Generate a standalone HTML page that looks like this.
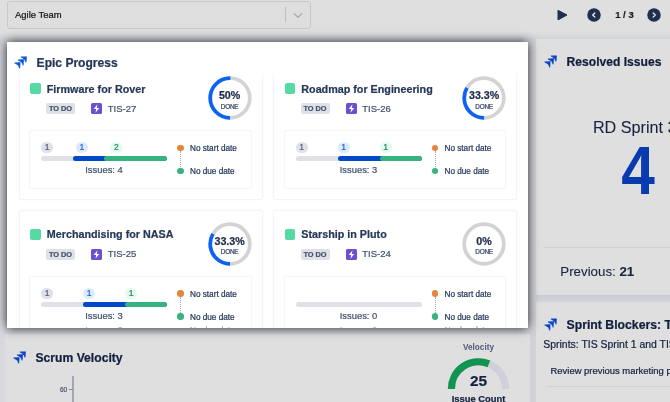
<!DOCTYPE html>
<html lang="en"><head><meta charset="utf-8"><title>Agile Team Dashboard</title>
<style>
html,body{margin:0;padding:0}
body{width:670px;height:402px;overflow:hidden;position:relative;background:#d2d3da;font-family:"Liberation Sans",sans-serif;color:#172b4d}
.abs{position:absolute}
div.abs{white-space:nowrap;line-height:1;-webkit-text-stroke:.22px}
.panel{background:#dfdfdf}
.ptitle{font-weight:bold;color:#111f3e}
#modal{left:6.9px;top:41.6px;width:521.4px;height:286.3px;background:#fff;box-shadow:0 0 10px rgba(0,0,0,.85);overflow:hidden}
#modal .in{position:absolute;left:-6.9px;top:-41.6px;width:670px;height:402px}
.mtitle{font-weight:bold;color:#253858}
.ecard{box-sizing:border-box;border-radius:1.8px;box-shadow:0 0 1.5px .3px rgba(80,100,190,.085)}
.gsq{width:10.8px;height:10.8px;border-radius:2px;background:#57d9a3}
.etitle{font-weight:bold;color:#253858}
.todo{box-sizing:border-box;width:29px;height:10.8px;border-radius:2px;background:#dfe1e6;color:#42526e;font-weight:bold;font-size:7.35px;line-height:11px !important;text-align:center;letter-spacing:0}
.ekey{color:#42526e}
.pct{font-weight:bold;color:#1d2b4a}
.done{color:#344563;letter-spacing:-.25px}
.ibox{box-sizing:border-box;border-radius:1.8px;box-shadow:0 0 1.5px .3px rgba(80,100,190,.07)}
.bar{height:5px;border-radius:2.5px;background:#dfe1e6;overflow:hidden}
.badge{-webkit-text-stroke:0;width:12.4px;height:10.7px;border-radius:5.4px;font-size:8.6px;line-height:11.2px !important;text-align:center}
.issues{color:#42526e;-webkit-text-stroke:.1px}
.dot{width:6.6px;height:6.6px;border-radius:50%}
.dotline{width:0;border-left:1px dotted #a5adba}
.dtxt{color:#253858}
#root{position:absolute;left:0;top:0;width:670px;height:402px;overflow:hidden;will-change:transform}
</style></head><body><div id="root">

<!-- top bar -->
<div class="abs panel" style="left:0;top:0;width:670px;height:31px"></div>
<div class="abs" style="left:0;top:31px;width:670px;height:8.3px;background:linear-gradient(#dfdfdf,#dadbdd 45%,#d2d3d8)"></div>
<div class="abs" style="left:7px;top:.6px;width:304.4px;height:28.4px;box-sizing:border-box;border:1.4px solid #c6c8ce;border-radius:3px;background:#dedede;"></div>
<div class="abs" style="left:15.00px;top:10px;font-size:9.45px;color:#141414;">Agile Team</div>
<div class="abs" style="left:285px;top:7.2px;width:1px;height:15.2px;background:#bdbdc0"></div>
<svg class="abs" style="left:292px;top:11px" width="12" height="9" viewBox="0 0 12 9"><path d="M2.2 2.6 L6 6.2 L9.8 2.6" fill="none" stroke="#ababae" stroke-width="1.3" stroke-linecap="round" stroke-linejoin="round"/></svg>
<svg class="abs" style="left:556px;top:8px" width="14" height="14" viewBox="0 0 14 14"><path d="M2 2.3 L11 7 L2 11.9 Z" fill="#1f2f4f" stroke="#1f2f4f" stroke-width="1" stroke-linejoin="round"/></svg>
<svg class="abs" style="left:587px;top:8px" width="14" height="14" viewBox="0 0 14 14"><circle cx="7" cy="7" r="6.75" fill="#1f2f4f"/><path d="M7.8 4.9 L5.7 7 L7.8 9.1" fill="none" stroke="#e6e6e6" stroke-width="1.35" stroke-linecap="round" stroke-linejoin="round"/></svg>
<div class="abs" style="left:615.20px;top:10px;font-size:9.5px;font-weight:bold;color:#1d1d1f;">1 / 3</div>
<svg class="abs" style="left:647px;top:8px" width="14" height="14" viewBox="0 0 14 14"><circle cx="7" cy="7" r="6.75" fill="#1f2f4f"/><path d="M6.2 4.9 L8.3 7 L6.2 9.1" fill="none" stroke="#e6e6e6" stroke-width="1.35" stroke-linecap="round" stroke-linejoin="round"/></svg>

<!-- right top panel: Resolved Issues -->
<div class="abs panel" style="left:536.3px;top:39.3px;width:134px;height:255.5px"></div>
<div class="abs" style="left:536.3px;top:294.8px;width:134px;height:7.3px;background:linear-gradient(#cacbd5,#d4d5da)"></div>
<svg class="abs" style="left:544px;top:54.6px" width="14" height="13" viewBox="0 0 14 13"><defs><linearGradient id="jg544_54" x1="1" y1="0" x2="0.15" y2="0.85"><stop offset="0.25" stop-color="#0a3dbd"/><stop offset="1" stop-color="#1f66e6"/></linearGradient></defs><g fill="url(#jg544_54)"><path transform="translate(6.5,0.4)" d="M6.3 0 L0.4 0.2 Q-0.2 0.6 0.5 1.1 Q2.6 1.9 3.55 3.05 Q4.5 4.2 4.95 5.9 Q5.45 6.5 6.0 5.9 L6.3 0 Z"/><path transform="translate(3.6,3.3)" d="M6.3 0 L0.4 0.2 Q-0.2 0.6 0.5 1.1 Q2.6 1.9 3.55 3.05 Q4.5 4.2 4.95 5.9 Q5.45 6.5 6.0 5.9 L6.3 0 Z"/><path transform="translate(0.2,6.3)" d="M6.3 0 L0.4 0.2 Q-0.2 0.6 0.5 1.1 Q2.6 1.9 3.55 3.05 Q4.5 4.2 4.95 5.9 Q5.45 6.5 6.0 5.9 L6.3 0 Z"/></g></svg>
<div class="abs ptitle" style="left:566.60px;top:56px;font-size:12.1px;">Resolved Issues</div>
<div class="abs" style="left:592.90px;top:119px;font-size:16.2px;color:#17233f;-webkit-text-stroke:.08px;">RD Sprint 3</div>
<div class="abs" style="left:587.90px;top:137px;font-size:68.7px;width:100px;text-align:center;font-weight:bold;color:#0a3ab0;transform:scaleX(.88);-webkit-text-stroke:0;">4</div>
<div class="abs" style="left:543px;top:247px;width:127px;height:1px;background:#d0d1d5"></div>
<div class="abs" style="left:560.30px;top:265px;font-size:13.3px;color:#17233f;-webkit-text-stroke:.1px;">Previous: <b>21</b></div>

<!-- right bottom panel: Sprint Blockers -->
<div class="abs panel" style="left:536.3px;top:302.1px;width:134px;height:101px"></div>
<svg class="abs" style="left:544.4px;top:318.2px" width="14" height="13" viewBox="0 0 14 13"><defs><linearGradient id="jg544_318" x1="1" y1="0" x2="0.15" y2="0.85"><stop offset="0.25" stop-color="#0a3dbd"/><stop offset="1" stop-color="#1f66e6"/></linearGradient></defs><g fill="url(#jg544_318)"><path transform="translate(6.5,0.4)" d="M6.3 0 L0.4 0.2 Q-0.2 0.6 0.5 1.1 Q2.6 1.9 3.55 3.05 Q4.5 4.2 4.95 5.9 Q5.45 6.5 6.0 5.9 L6.3 0 Z"/><path transform="translate(3.6,3.3)" d="M6.3 0 L0.4 0.2 Q-0.2 0.6 0.5 1.1 Q2.6 1.9 3.55 3.05 Q4.5 4.2 4.95 5.9 Q5.45 6.5 6.0 5.9 L6.3 0 Z"/><path transform="translate(0.2,6.3)" d="M6.3 0 L0.4 0.2 Q-0.2 0.6 0.5 1.1 Q2.6 1.9 3.55 3.05 Q4.5 4.2 4.95 5.9 Q5.45 6.5 6.0 5.9 L6.3 0 Z"/></g></svg>
<div class="abs ptitle" style="left:566.50px;top:319px;font-size:12.25px;">Sprint Blockers: TIS Sprints</div>
<div class="abs" style="left:543.30px;top:340px;font-size:10.45px;color:#17233f;">Sprints: TIS Sprint 1 and TIS Sprint 2</div>
<div class="abs" style="left:550.50px;top:366px;font-size:9.45px;color:#17233f;">Review previous marketing plan</div>
<div class="abs" style="left:546.5px;top:386px;width:124px;height:1px;background:#d0d1d5"></div>

<!-- bottom-left panel: Scrum Velocity -->
<div class="abs" style="left:0;top:320px;width:5px;height:82px;background:#d8d9de"></div>
<div class="abs panel" style="left:5px;top:334px;width:524.6px;height:68px"></div>
<svg class="abs" style="left:13px;top:351.3px" width="14" height="13" viewBox="0 0 14 13"><defs><linearGradient id="jg13_351" x1="1" y1="0" x2="0.15" y2="0.85"><stop offset="0.25" stop-color="#0a3dbd"/><stop offset="1" stop-color="#1f66e6"/></linearGradient></defs><g fill="url(#jg13_351)"><path transform="translate(6.5,0.4)" d="M6.3 0 L0.4 0.2 Q-0.2 0.6 0.5 1.1 Q2.6 1.9 3.55 3.05 Q4.5 4.2 4.95 5.9 Q5.45 6.5 6.0 5.9 L6.3 0 Z"/><path transform="translate(3.6,3.3)" d="M6.3 0 L0.4 0.2 Q-0.2 0.6 0.5 1.1 Q2.6 1.9 3.55 3.05 Q4.5 4.2 4.95 5.9 Q5.45 6.5 6.0 5.9 L6.3 0 Z"/><path transform="translate(0.2,6.3)" d="M6.3 0 L0.4 0.2 Q-0.2 0.6 0.5 1.1 Q2.6 1.9 3.55 3.05 Q4.5 4.2 4.95 5.9 Q5.45 6.5 6.0 5.9 L6.3 0 Z"/></g></svg>
<div class="abs ptitle" style="left:35.50px;top:352px;font-size:12.15px;">Scrum Velocity</div>
<div class="abs" style="left:72.3px;top:375.8px;width:1.6px;height:27px;background:#a3a7b5"></div>
<div class="abs" style="left:69px;top:388.7px;width:4px;height:1px;background:#8b90a0"></div>
<div class="abs" style="left:60.00px;top:387px;font-size:6.5px;color:#414a66;-webkit-text-stroke:.15px;">60</div>
<div class="abs" style="left:448.50px;top:344px;font-size:8.2px;width:60px;text-align:center;font-weight:bold;color:#525b78;-webkit-text-stroke:0;">Velocity</div>
<svg class="abs" style="left:0;top:0" width="670" height="402" viewBox="0 0 670 402"><path d="M451.40 388.90 A27.1 27.1 0 0 1 505.60 388.90" fill="none" stroke="#cfd0da" stroke-width="7.2"/><path d="M451.40 388.90 A27.1 27.1 0 0 1 488.87 363.86" fill="none" stroke="#109450" stroke-width="7.2"/></svg>
<div class="abs" style="left:448.50px;top:373px;font-size:15.4px;width:60px;text-align:center;font-weight:bold;color:#14223f;">25</div>
<div class="abs" style="left:438.50px;top:394px;font-size:9.4px;width:80px;text-align:center;font-weight:bold;color:#14223f;">Issue Count</div>

<!-- highlighted modal card: Epic Progress -->
<div class="abs" id="modal"><div class="in">
<svg class="abs" style="left:14px;top:55.6px" width="14" height="13" viewBox="0 0 14 13"><defs><linearGradient id="jg14_55" x1="1" y1="0" x2="0.15" y2="0.85"><stop offset="0.25" stop-color="#0a4fd0"/><stop offset="1" stop-color="#2a7df5"/></linearGradient></defs><g fill="url(#jg14_55)"><path transform="translate(6.5,0.4)" d="M6.3 0 L0.4 0.2 Q-0.2 0.6 0.5 1.1 Q2.6 1.9 3.55 3.05 Q4.5 4.2 4.95 5.9 Q5.45 6.5 6.0 5.9 L6.3 0 Z"/><path transform="translate(3.6,3.3)" d="M6.3 0 L0.4 0.2 Q-0.2 0.6 0.5 1.1 Q2.6 1.9 3.55 3.05 Q4.5 4.2 4.95 5.9 Q5.45 6.5 6.0 5.9 L6.3 0 Z"/><path transform="translate(0.2,6.3)" d="M6.3 0 L0.4 0.2 Q-0.2 0.6 0.5 1.1 Q2.6 1.9 3.55 3.05 Q4.5 4.2 4.95 5.9 Q5.45 6.5 6.0 5.9 L6.3 0 Z"/></g></svg>
<div class="abs mtitle" style="left:36.60px;top:57px;font-size:12.05px;">Epic Progress</div>
<div class="abs ecard" style="left:19.6px;top:65.6px;width:242.2px;height:133.0px;clip-path:inset(8.0px -4px -4px -4px);"></div>
<div class="abs gsq" style="left:30.0px;top:83.3px"></div>
<div class="abs etitle" style="left:46.80px;top:84px;font-size:10.75px;">Firmware for Rover</div>
<div class="abs todo" style="left:46.0px;top:103.3px">TO DO</div>
<svg class="abs" style="left:91.0px;top:103.0px" width="11" height="11" viewBox="0 0 11 11"><rect width="11" height="11" rx="1.6" fill="#6b4fd0"/><path d="M6.5 1.2 L2.7 6.0 L5.2 6.0 L4.5 9.8 L8.3 4.9 L5.8 4.9 Z" fill="#fff"/></svg>
<div class="abs ekey" style="left:107.70px;top:104px;font-size:9.5px;">TIS-27</div>
<svg class="abs" style="left:206.60px;top:75.10px" width="46" height="46" viewBox="-23 -23 46 46"><circle r="19.8" fill="none" stroke="#d3d3d3" stroke-width="3.7"/><circle r="19.8" fill="none" stroke="#0b63f6" stroke-width="3.7" stroke-dasharray="62.20 124.41" transform="rotate(90)"/></svg><div class="abs pct" style="left:206.60px;top:90px;font-size:10.7px;width:46px;text-align:center;">50%</div><div class="abs done" style="left:206.60px;top:104px;font-size:6.4px;width:46px;text-align:center;">DONE</div>
<div class="abs ibox" style="left:30.4px;top:131.1px;width:220.5px;height:56.9px"></div>
<div class="abs bar" style="left:41.0px;top:156.0px;width:126px">
<div class="abs" style="left:31.5px;top:0;width:94.5px;height:5px;border-radius:2.5px;background:#0049c6"></div>
<div class="abs" style="left:63.0px;top:0;width:63.0px;height:5px;border-radius:2.5px;background:#36b37e"></div>
</div>
<div class="abs badge" style="left:41.0px;top:142.3px;background:#dfe1e6;color:#56637c">1</div>
<div class="abs badge" style="left:75.6px;top:142.3px;background:#deebff;color:#1f63d8">1</div>
<div class="abs badge" style="left:110.2px;top:142.3px;background:#e3fcef;color:#2a8a60">2</div>
<div class="abs issues" style="left:41.00px;top:165px;font-size:9.4px;width:126px;text-align:center;">Issues: 4</div>
<div class="abs dotline" style="left:180.0px;top:150.9px;height:18px"></div>
<div class="abs dot" style="left:177.2px;top:144.6px;background:#e5853c"></div>
<div class="abs dot" style="left:177.2px;top:167.7px;background:#36b37e"></div>
<div class="abs dtxt" style="left:190.00px;top:145px;font-size:8.2px;">No start date</div>
<div class="abs dtxt" style="left:190.00px;top:168px;font-size:8.2px;">No due date</div>
<div class="abs ecard" style="left:274.1px;top:65.6px;width:242.2px;height:133.0px;clip-path:inset(8.0px -4px -4px -4px);"></div>
<div class="abs gsq" style="left:284.5px;top:83.3px"></div>
<div class="abs etitle" style="left:301.30px;top:84px;font-size:10.75px;">Roadmap for Engineering</div>
<div class="abs todo" style="left:300.5px;top:103.3px">TO DO</div>
<svg class="abs" style="left:345.5px;top:103.0px" width="11" height="11" viewBox="0 0 11 11"><rect width="11" height="11" rx="1.6" fill="#6b4fd0"/><path d="M6.5 1.2 L2.7 6.0 L5.2 6.0 L4.5 9.8 L8.3 4.9 L5.8 4.9 Z" fill="#fff"/></svg>
<div class="abs ekey" style="left:362.20px;top:104px;font-size:9.5px;">TIS-26</div>
<svg class="abs" style="left:461.10px;top:75.10px" width="46" height="46" viewBox="-23 -23 46 46"><circle r="19.8" fill="none" stroke="#d3d3d3" stroke-width="3.7"/><circle r="19.8" fill="none" stroke="#0b63f6" stroke-width="3.7" stroke-dasharray="41.47 124.41" transform="rotate(90)"/></svg><div class="abs pct" style="left:461.10px;top:90px;font-size:10.7px;width:46px;text-align:center;">33.3%</div><div class="abs done" style="left:461.10px;top:104px;font-size:6.4px;width:46px;text-align:center;">DONE</div>
<div class="abs ibox" style="left:284.9px;top:131.1px;width:220.5px;height:56.9px"></div>
<div class="abs bar" style="left:295.5px;top:156.0px;width:126px">
<div class="abs" style="left:42.0px;top:0;width:84.0px;height:5px;border-radius:2.5px;background:#0049c6"></div>
<div class="abs" style="left:84.0px;top:0;width:42.0px;height:5px;border-radius:2.5px;background:#36b37e"></div>
</div>
<div class="abs badge" style="left:295.5px;top:142.3px;background:#dfe1e6;color:#56637c">1</div>
<div class="abs badge" style="left:337.5px;top:142.3px;background:#deebff;color:#1f63d8">1</div>
<div class="abs badge" style="left:379.5px;top:142.3px;background:#e3fcef;color:#2a8a60">1</div>
<div class="abs issues" style="left:295.50px;top:165px;font-size:9.4px;width:126px;text-align:center;">Issues: 3</div>
<div class="abs dotline" style="left:434.5px;top:150.9px;height:18px"></div>
<div class="abs dot" style="left:431.7px;top:144.6px;background:#e5853c"></div>
<div class="abs dot" style="left:431.7px;top:167.7px;background:#36b37e"></div>
<div class="abs dtxt" style="left:444.50px;top:145px;font-size:8.2px;">No start date</div>
<div class="abs dtxt" style="left:444.50px;top:168px;font-size:8.2px;">No due date</div>
<div class="abs ecard" style="left:19.6px;top:211.3px;width:242.2px;height:120.0px;"></div>
<div class="abs gsq" style="left:30.0px;top:229.0px"></div>
<div class="abs etitle" style="left:46.80px;top:229px;font-size:10.75px;">Merchandising for NASA</div>
<div class="abs todo" style="left:46.0px;top:249.0px">TO DO</div>
<svg class="abs" style="left:91.0px;top:248.7px" width="11" height="11" viewBox="0 0 11 11"><rect width="11" height="11" rx="1.6" fill="#6b4fd0"/><path d="M6.5 1.2 L2.7 6.0 L5.2 6.0 L4.5 9.8 L8.3 4.9 L5.8 4.9 Z" fill="#fff"/></svg>
<div class="abs ekey" style="left:107.70px;top:249px;font-size:9.5px;">TIS-25</div>
<svg class="abs" style="left:206.60px;top:220.80px" width="46" height="46" viewBox="-23 -23 46 46"><circle r="19.8" fill="none" stroke="#d3d3d3" stroke-width="3.7"/><circle r="19.8" fill="none" stroke="#0b63f6" stroke-width="3.7" stroke-dasharray="41.47 124.41" transform="rotate(90)"/></svg><div class="abs pct" style="left:206.60px;top:236px;font-size:10.7px;width:46px;text-align:center;">33.3%</div><div class="abs done" style="left:206.60px;top:249px;font-size:6.4px;width:46px;text-align:center;">DONE</div>
<div class="abs ibox" style="left:30.4px;top:276.8px;width:220.5px;height:56.9px"></div>
<div class="abs bar" style="left:41.0px;top:301.7px;width:126px">
<div class="abs" style="left:42.0px;top:0;width:84.0px;height:5px;border-radius:2.5px;background:#0049c6"></div>
<div class="abs" style="left:84.0px;top:0;width:42.0px;height:5px;border-radius:2.5px;background:#36b37e"></div>
</div>
<div class="abs badge" style="left:41.0px;top:288.0px;background:#dfe1e6;color:#56637c">1</div>
<div class="abs badge" style="left:83.0px;top:288.0px;background:#deebff;color:#1f63d8">1</div>
<div class="abs badge" style="left:125.0px;top:288.0px;background:#e3fcef;color:#2a8a60">1</div>
<div class="abs issues" style="left:41.00px;top:311px;font-size:9.4px;width:126px;text-align:center;">Issues: 3</div>
<div class="abs dotline" style="left:180.0px;top:296.6px;height:18px"></div>
<div class="abs dot" style="left:177.2px;top:290.3px;background:#e5853c"></div>
<div class="abs dot" style="left:177.2px;top:313.4px;background:#36b37e"></div>
<div class="abs dtxt" style="left:190.00px;top:291px;font-size:8.2px;">No start date</div>
<div class="abs dtxt" style="left:190.00px;top:314px;font-size:8.2px;">No due date</div>
<div class="abs dot" style="left:177.2px;top:327.6px;background:#36b37e;opacity:.6"></div>
<div class="abs issues" style="left:41.00px;top:325px;font-size:9.4px;width:126px;text-align:center;opacity:.45;">Issues: 3</div>
<div class="abs dtxt" style="left:190.00px;top:327px;font-size:8.2px;opacity:.45;">No due date</div>
<div class="abs ecard" style="left:274.1px;top:211.3px;width:242.2px;height:120.0px;"></div>
<div class="abs gsq" style="left:284.5px;top:229.0px"></div>
<div class="abs etitle" style="left:301.30px;top:229px;font-size:10.75px;">Starship in Pluto</div>
<div class="abs todo" style="left:300.5px;top:249.0px">TO DO</div>
<svg class="abs" style="left:345.5px;top:248.7px" width="11" height="11" viewBox="0 0 11 11"><rect width="11" height="11" rx="1.6" fill="#6b4fd0"/><path d="M6.5 1.2 L2.7 6.0 L5.2 6.0 L4.5 9.8 L8.3 4.9 L5.8 4.9 Z" fill="#fff"/></svg>
<div class="abs ekey" style="left:362.20px;top:249px;font-size:9.5px;">TIS-24</div>
<svg class="abs" style="left:461.10px;top:220.80px" width="46" height="46" viewBox="-23 -23 46 46"><circle r="19.8" fill="none" stroke="#d3d3d3" stroke-width="3.7"/></svg><div class="abs pct" style="left:461.10px;top:236px;font-size:10.7px;width:46px;text-align:center;">0%</div><div class="abs done" style="left:461.10px;top:249px;font-size:6.4px;width:46px;text-align:center;">DONE</div>
<div class="abs ibox" style="left:284.9px;top:276.8px;width:220.5px;height:56.9px"></div>
<div class="abs bar" style="left:295.5px;top:301.7px;width:126px">
</div>
<div class="abs issues" style="left:295.50px;top:311px;font-size:9.4px;width:126px;text-align:center;">Issues: 0</div>
<div class="abs dotline" style="left:434.5px;top:296.6px;height:18px"></div>
<div class="abs dot" style="left:431.7px;top:290.3px;background:#e5853c"></div>
<div class="abs dot" style="left:431.7px;top:313.4px;background:#36b37e"></div>
<div class="abs dtxt" style="left:444.50px;top:291px;font-size:8.2px;">No start date</div>
<div class="abs dtxt" style="left:444.50px;top:314px;font-size:8.2px;">No due date</div>
<div class="abs dot" style="left:431.7px;top:327.6px;background:#36b37e;opacity:.6"></div>
<div class="abs issues" style="left:295.50px;top:325px;font-size:9.4px;width:126px;text-align:center;opacity:.45;">Issues: 0</div>
<div class="abs dtxt" style="left:444.50px;top:327px;font-size:8.2px;opacity:.45;">No due date</div>
</div></div>

</div></body></html>
